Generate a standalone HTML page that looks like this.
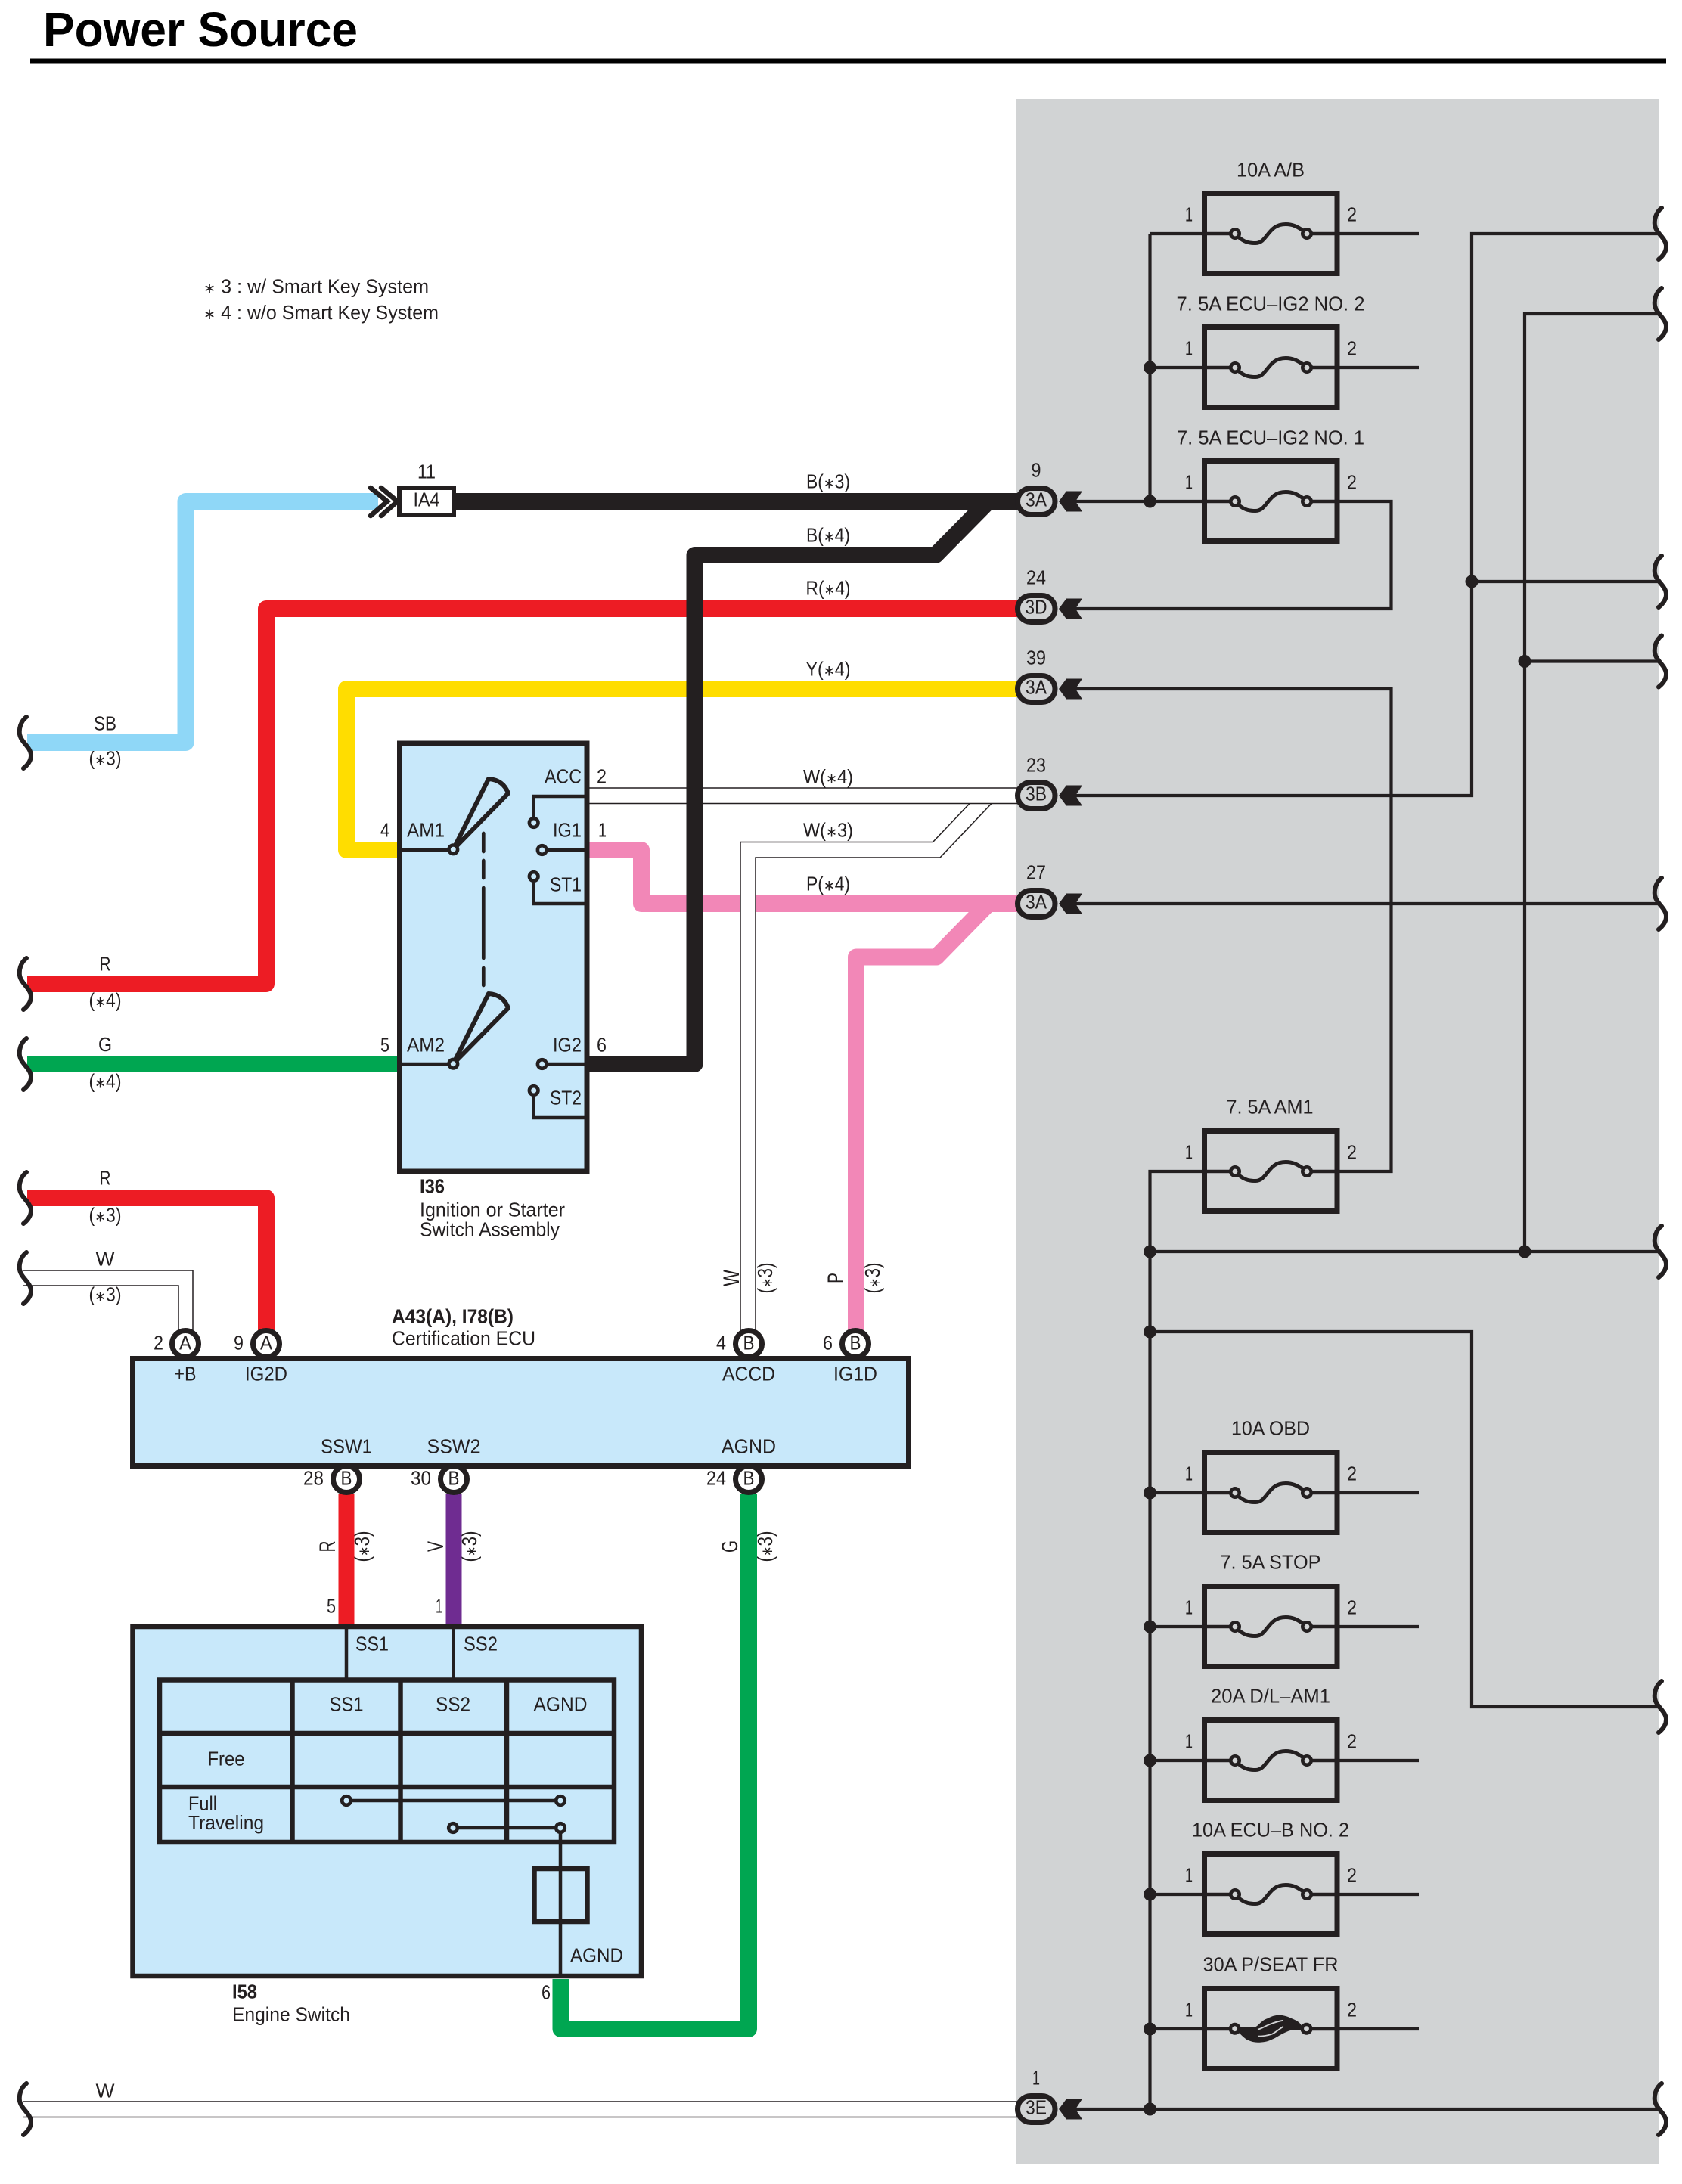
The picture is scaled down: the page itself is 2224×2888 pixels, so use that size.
<!DOCTYPE html>
<html lang="en"><head><meta charset="utf-8"><title>Power Source</title>
<style>
html,body{margin:0;padding:0;background:#fff}
svg{display:block}
text{font-family:"Liberation Sans","DejaVu Sans",sans-serif;font-size:26px;fill:#231f20}
text:not([transform]){transform:translateY(-1.5px)}
tspan.s{font-size:20px}
.m{text-anchor:middle}
.b{font-weight:bold}
.w{fill:none;stroke-width:22;stroke-linejoin:round}
.k{fill:none;stroke:#231f20;stroke-linejoin:miter}
.th{fill:none;stroke:#231f20;stroke-width:1.5}
.r1{font-size:30px}
.r2{font-size:28px}
</style></head><body>
<svg xmlns="http://www.w3.org/2000/svg" width="2224" height="2888" viewBox="0 0 2224 2888">
<defs>
<g id="fb"><rect x="1592.5" y="-53.5" width="175.5" height="106" fill="none" stroke="#231f20" stroke-width="7"/>
<path d="M1734 0H1771M1589 0H1627" stroke="#231f20" stroke-width="4.2" fill="none"/></g>
<g id="fuse"><use href="#fb"/>
<path d="M1637 4C1645 11 1651 12.5 1660 12.5C1676 12.5 1676-12.5 1700-12.5C1712-12.5 1718-7 1725-3" fill="none" stroke="#231f20" stroke-width="5"/>
<circle cx="1633" cy="0" r="5.7" fill="#d1d3d4" stroke="#231f20" stroke-width="4.6"/>
<circle cx="1728" cy="0" r="5.7" fill="#d1d3d4" stroke="#231f20" stroke-width="4.6"/></g>
<path id="br" d="M35-34C27-28 25-18 26-11C28 0 41 6 41 17C41 24 36 30 31 34" fill="none" stroke="#231f20" stroke-width="6" stroke-linecap="round"/>
<path id="ar" d="M1400 0L1410-13.5H1431L1422 0L1431 13.5H1410Z" fill="#231f20"/>
</defs>

<rect x="1343" y="131" width="851" height="2730" fill="#d1d3d4"/>

<text x="57" y="61" class="b" style="font-size:64px;fill:#000;transform:none" textLength="416" lengthAdjust="spacingAndGlyphs">Power Source</text>
<rect x="40" y="77.5" width="2163" height="6" fill="#000"/>

<text x="269" y="389" textLength="298" lengthAdjust="spacingAndGlyphs"><tspan class="s">∗</tspan> 3 : w/ Smart Key System</text>
<text x="269" y="423.5" textLength="311" lengthAdjust="spacingAndGlyphs"><tspan class="s">∗</tspan> 4 : w/o Smart Key System</text>

<!-- wire labels -->
<text x="1095" y="647" class="m" textLength="58" lengthAdjust="spacingAndGlyphs">B(<tspan class="s">∗</tspan>3)</text>
<text x="1095" y="718" class="m" textLength="58" lengthAdjust="spacingAndGlyphs">B(<tspan class="s">∗</tspan>4)</text>
<text x="1095" y="788" class="m" textLength="59" lengthAdjust="spacingAndGlyphs">R(<tspan class="s">∗</tspan>4)</text>
<text x="1095" y="895" class="m" textLength="59" lengthAdjust="spacingAndGlyphs">Y(<tspan class="s">∗</tspan>4)</text>
<text x="1095" y="1037.5" class="m" textLength="66" lengthAdjust="spacingAndGlyphs">W(<tspan class="s">∗</tspan>4)</text>
<text x="1095" y="1108" class="m" textLength="66" lengthAdjust="spacingAndGlyphs">W(<tspan class="s">∗</tspan>3)</text>
<text x="1095" y="1179" class="m" textLength="58" lengthAdjust="spacingAndGlyphs">P(<tspan class="s">∗</tspan>4)</text>

<text x="139" y="967" class="m" textLength="30" lengthAdjust="spacingAndGlyphs">SB</text>
<text x="139" y="1013" class="m" textLength="43" lengthAdjust="spacingAndGlyphs">(<tspan class="s">∗</tspan>3)</text>
<text x="139" y="1285" class="m" textLength="15" lengthAdjust="spacingAndGlyphs">R</text>
<text x="139" y="1333" class="m" textLength="43" lengthAdjust="spacingAndGlyphs">(<tspan class="s">∗</tspan>4)</text>
<text x="139" y="1391.5" class="m" textLength="18" lengthAdjust="spacingAndGlyphs">G</text>
<text x="139" y="1440" class="m" textLength="43" lengthAdjust="spacingAndGlyphs">(<tspan class="s">∗</tspan>4)</text>
<text x="139" y="1568" class="m" textLength="15" lengthAdjust="spacingAndGlyphs">R</text>
<text x="139" y="1617" class="m" textLength="43" lengthAdjust="spacingAndGlyphs">(<tspan class="s">∗</tspan>3)</text>
<text x="139" y="1675" class="m" textLength="25" lengthAdjust="spacingAndGlyphs">W</text>
<text x="139" y="1722" class="m" textLength="43" lengthAdjust="spacingAndGlyphs">(<tspan class="s">∗</tspan>3)</text>
<text x="139" y="2775" class="m" textLength="25" lengthAdjust="spacingAndGlyphs">W</text>

<text class="m r1" transform="translate(977,1690) rotate(-90)" textLength="22" lengthAdjust="spacingAndGlyphs">W</text>
<text class="m r2" transform="translate(1021,1690) rotate(-90)" textLength="41" lengthAdjust="spacingAndGlyphs">(<tspan class="s">∗</tspan>3)</text>
<text class="m r1" transform="translate(1115,1690) rotate(-90)" textLength="14" lengthAdjust="spacingAndGlyphs">P</text>
<text class="m r2" transform="translate(1163,1690) rotate(-90)" textLength="41" lengthAdjust="spacingAndGlyphs">(<tspan class="s">∗</tspan>3)</text>
<text class="m r1" transform="translate(443,2045) rotate(-90)" textLength="15" lengthAdjust="spacingAndGlyphs">R</text>
<text class="m r2" transform="translate(488,2045) rotate(-90)" textLength="41" lengthAdjust="spacingAndGlyphs">(<tspan class="s">∗</tspan>3)</text>
<text class="m r1" transform="translate(586,2045) rotate(-90)" textLength="14" lengthAdjust="spacingAndGlyphs">V</text>
<text class="m r2" transform="translate(630,2045) rotate(-90)" textLength="41" lengthAdjust="spacingAndGlyphs">(<tspan class="s">∗</tspan>3)</text>
<text class="m r1" transform="translate(975,2045) rotate(-90)" textLength="16" lengthAdjust="spacingAndGlyphs">G</text>
<text class="m r2" transform="translate(1021,2045) rotate(-90)" textLength="41" lengthAdjust="spacingAndGlyphs">(<tspan class="s">∗</tspan>3)</text>

<!-- coloured wires -->
<path class="w" stroke="#8fd7f7" d="M36 982H245.5V663H500"/>
<path class="w" stroke="#ed1c24" d="M1345 805H352V1301H36"/>
<path class="w" stroke="#ffdd00" d="M1345 911H458V1124H530"/>
<path class="w" stroke="#00a651" d="M36 1407H530"/>
<path class="w" stroke="#ed1c24" d="M36 1584H352V1762"/>
<path class="w" stroke="#f287b7" d="M776 1124H848V1195H1345M1307 1195L1238 1265.5H1132V1762"/>
<path class="w" stroke="#ed1c24" style="stroke-width:21" d="M458 1975V2150"/>
<path class="w" stroke="#6f2c91" style="stroke-width:21" d="M600 1975V2150"/>
<path class="w" stroke="#00a651" d="M990 1975V2683H741.5V2617"/>

<!-- white wires (double thin lines) -->
<rect x="776" y="1042" width="570" height="20.5" fill="#fff"/>
<path d="M979 1770V1113.5H1233.5L1282 1062H1311L1243 1134H999V1770Z" fill="#fff"/>
<path class="th" d="M776 1042H1346M776 1062.5H1346"/>
<path class="th" d="M979 1770V1113.5H1233.5L1282 1062.5M1311 1062.5L1243 1134H999V1770"/>
<path class="th" d="M30 1680H255V1762M30 1700H236V1762"/>
<path class="th" d="M30 2779H1346M30 2799.5H1346"/>

<!-- black wires -->
<path class="w" stroke="#231f20" d="M603 663H1345M1307 663L1237 734H918.5V1407H776"/>

<!-- I36 switch -->
<rect x="528.5" y="983" width="247.5" height="566" fill="#c8e8fa" stroke="#231f20" stroke-width="7"/>
<path class="k" stroke-width="4.5" d="M532 1124H599M532 1407H599M776 1053H705.7V1083M776 1124H722M705.7 1164V1195H776M776 1407H722M705.7 1447V1478H776"/>
<path d="M599.3 1123.3L646 1030C660 1031 668 1038 672 1049Z" fill="none" stroke="#231f20" stroke-width="6" stroke-linejoin="round"/>
<path d="M599.3 1406.7L646 1314C660 1315 668 1322 672 1333Z" fill="none" stroke="#231f20" stroke-width="6" stroke-linejoin="round"/>
<path d="M639.3 1102V1126M639.3 1138V1161M639.3 1174V1267M639.3 1280V1303" stroke="#231f20" stroke-width="4.7" stroke-linecap="round" fill="none"/>
<g fill="#c8e8fa" stroke="#231f20" stroke-width="4.6">
<circle cx="599.3" cy="1123.3" r="5.8"/><circle cx="599.3" cy="1406.7" r="5.8"/>
<circle cx="705.7" cy="1088" r="5.8"/><circle cx="716.7" cy="1124" r="5.8"/><circle cx="705.7" cy="1159" r="5.8"/>
<circle cx="716.7" cy="1407" r="5.8"/><circle cx="705.7" cy="1442" r="5.8"/></g>
<text x="720" y="1037" textLength="49" lengthAdjust="spacingAndGlyphs">ACC</text>
<text x="789" y="1037" textLength="13" lengthAdjust="spacingAndGlyphs">2</text>
<text x="731" y="1108" textLength="38" lengthAdjust="spacingAndGlyphs">IG1</text>
<text x="791" y="1108" textLength="11" lengthAdjust="spacingAndGlyphs">1</text>
<text x="727" y="1180" textLength="42" lengthAdjust="spacingAndGlyphs">ST1</text>
<text x="538" y="1108" textLength="50" lengthAdjust="spacingAndGlyphs">AM1</text>
<text x="503" y="1108" textLength="12" lengthAdjust="spacingAndGlyphs">4</text>
<text x="538" y="1392" textLength="50" lengthAdjust="spacingAndGlyphs">AM2</text>
<text x="503" y="1392" textLength="12" lengthAdjust="spacingAndGlyphs">5</text>
<text x="731" y="1392" textLength="38" lengthAdjust="spacingAndGlyphs">IG2</text>
<text x="789" y="1392" textLength="13" lengthAdjust="spacingAndGlyphs">6</text>
<text x="727" y="1462" textLength="42" lengthAdjust="spacingAndGlyphs">ST2</text>
<text x="555" y="1579" class="b" textLength="33" lengthAdjust="spacingAndGlyphs">I36</text>
<text x="555" y="1610" textLength="192" lengthAdjust="spacingAndGlyphs">Ignition or Starter</text>
<text x="555" y="1636" textLength="185" lengthAdjust="spacingAndGlyphs">Switch Assembly</text>

<!-- IA4 -->
<path d="M490 645L512 663L490 682M504 645L525.5 663L504 682" fill="none" stroke="#231f20" stroke-width="6.5" stroke-linecap="round"/>
<rect x="528" y="645" width="72" height="36" fill="#fff" stroke="#231f20" stroke-width="6"/>
<text x="564" y="671" class="m" textLength="35" lengthAdjust="spacingAndGlyphs">IA4</text>
<text x="564" y="634" class="m" textLength="24" lengthAdjust="spacingAndGlyphs">11</text>

<!-- ECU -->
<rect x="175.5" y="1796.5" width="1026" height="142" fill="#c8e8fa" stroke="#231f20" stroke-width="7"/>
<g fill="#fff" stroke="#231f20" stroke-width="7">
<circle cx="245" cy="1777" r="17.5"/><circle cx="352" cy="1777" r="17.5"/><circle cx="990" cy="1777" r="17.5"/><circle cx="1131" cy="1777" r="17.5"/>
<circle cx="458" cy="1956" r="17.5"/><circle cx="600" cy="1956" r="17.5"/><circle cx="990" cy="1956" r="17.5"/></g>
<text x="245" y="1786" class="m" textLength="16" lengthAdjust="spacingAndGlyphs">A</text>
<text x="352" y="1786" class="m" textLength="16" lengthAdjust="spacingAndGlyphs">A</text>
<text x="990" y="1786" class="m" textLength="15" lengthAdjust="spacingAndGlyphs">B</text>
<text x="1131" y="1786" class="m" textLength="15" lengthAdjust="spacingAndGlyphs">B</text>
<text x="458" y="1965" class="m" textLength="15" lengthAdjust="spacingAndGlyphs">B</text>
<text x="600" y="1965" class="m" textLength="15" lengthAdjust="spacingAndGlyphs">B</text>
<text x="990" y="1965" class="m" textLength="15" lengthAdjust="spacingAndGlyphs">B</text>
<text x="203" y="1786" textLength="13" lengthAdjust="spacingAndGlyphs">2</text>
<text x="309" y="1786" textLength="13" lengthAdjust="spacingAndGlyphs">9</text>
<text x="947" y="1786" textLength="13" lengthAdjust="spacingAndGlyphs">4</text>
<text x="1088" y="1786" textLength="13" lengthAdjust="spacingAndGlyphs">6</text>
<text x="401" y="1965" textLength="27" lengthAdjust="spacingAndGlyphs">28</text>
<text x="543" y="1965" textLength="27" lengthAdjust="spacingAndGlyphs">30</text>
<text x="934" y="1965" textLength="26" lengthAdjust="spacingAndGlyphs">24</text>
<text x="245" y="1827" class="m" textLength="29" lengthAdjust="spacingAndGlyphs">+B</text>
<text x="352" y="1827" class="m" textLength="56" lengthAdjust="spacingAndGlyphs">IG2D</text>
<text x="990" y="1827" class="m" textLength="70" lengthAdjust="spacingAndGlyphs">ACCD</text>
<text x="1131" y="1827" class="m" textLength="58" lengthAdjust="spacingAndGlyphs">IG1D</text>
<text x="458" y="1923" class="m" textLength="68" lengthAdjust="spacingAndGlyphs">SSW1</text>
<text x="600" y="1923" class="m" textLength="71" lengthAdjust="spacingAndGlyphs">SSW2</text>
<text x="990" y="1923" class="m" textLength="72" lengthAdjust="spacingAndGlyphs">AGND</text>
<text x="518" y="1751" class="b" textLength="161" lengthAdjust="spacingAndGlyphs">A43(A), I78(B)</text>
<text x="518" y="1780" textLength="190" lengthAdjust="spacingAndGlyphs">Certification ECU</text>

<!-- Engine switch -->
<rect x="175.5" y="2151" width="672.5" height="462" fill="#c8e8fa" stroke="#231f20" stroke-width="6.5"/>
<path class="k" stroke-width="4.5" d="M458 2151V2222M599.5 2151V2222M741 2417V2613M458 2381H741M599 2417H741"/>
<path class="k" stroke-width="6.5" d="M211 2221.5H812V2436H211ZM211 2292H812M211 2363H812M386.5 2221.5V2436M529.5 2221.5V2436M670 2221.5V2436M706.5 2471H776.5V2541H706.5Z"/>
<g fill="#c8e8fa" stroke="#231f20" stroke-width="4.6">
<circle cx="458" cy="2381" r="5.8"/><circle cx="741" cy="2381" r="5.8"/><circle cx="599" cy="2417" r="5.8"/><circle cx="741" cy="2417" r="5.8"/></g>
<text x="470" y="2184" textLength="44" lengthAdjust="spacingAndGlyphs">SS1</text>
<text x="613" y="2184" textLength="45" lengthAdjust="spacingAndGlyphs">SS2</text>
<text x="458" y="2264" class="m" textLength="45" lengthAdjust="spacingAndGlyphs">SS1</text>
<text x="599" y="2264" class="m" textLength="46" lengthAdjust="spacingAndGlyphs">SS2</text>
<text x="741" y="2264" class="m" textLength="71" lengthAdjust="spacingAndGlyphs">AGND</text>
<text x="299" y="2336" class="m" textLength="49" lengthAdjust="spacingAndGlyphs">Free</text>
<text x="249" y="2395" textLength="38" lengthAdjust="spacingAndGlyphs">Full</text>
<text x="249" y="2420.5" textLength="100" lengthAdjust="spacingAndGlyphs">Traveling</text>
<text x="754" y="2596" textLength="70" lengthAdjust="spacingAndGlyphs">AGND</text>
<text x="716" y="2645" textLength="12" lengthAdjust="spacingAndGlyphs">6</text>
<text x="432" y="2134" textLength="12" lengthAdjust="spacingAndGlyphs">5</text>
<text x="576" y="2134" textLength="9" lengthAdjust="spacingAndGlyphs">1</text>
<text x="307" y="2644" class="b" textLength="33" lengthAdjust="spacingAndGlyphs">I58</text>
<text x="307" y="2674" textLength="156" lengthAdjust="spacingAndGlyphs">Engine Switch</text>

<!-- left braces -->
<use href="#br" y="982"/><use href="#br" y="1301"/><use href="#br" y="1407"/><use href="#br" y="1584"/><use href="#br" y="1690"/><use href="#br" y="2789"/>

<!-- right side wiring -->
<path class="k" stroke-width="4.2" d="M1520.5 309H1627M1520.5 309V663M1520.5 486H1627M1422 663H1627M1734 309H1876M1734 486H1876M1734 663H1839.5V805H1422
M1422 911H1839.5V1549H1734M1627 1549H1520.5V2789M1422 2789H2196
M1520.5 1974H1627M1734 1974H1876M1520.5 2151H1627M1734 2151H1876M1520.5 2328H1627M1734 2328H1876M1520.5 2505H1627M1734 2505H1876M1520.5 2683H1627M1734 2683H1876
M1422 1052H1946V309H2196M1946 769H2196M2016 1655V415H2196M2016 874.5H2196M1520.5 1655H2196M1520.5 1761H1946V2257H2196M1422 1195H2196"/>
<g fill="#231f20">
<circle cx="1520.5" cy="486" r="8.5"/><circle cx="1520.5" cy="663" r="8.5"/><circle cx="1946" cy="769" r="8.5"/><circle cx="2016" cy="874.5" r="8.5"/>
<circle cx="1520.5" cy="1655" r="8.5"/><circle cx="2016" cy="1655" r="8.5"/><circle cx="1520.5" cy="1761" r="8.5"/>
<circle cx="1520.5" cy="1974" r="8.5"/><circle cx="1520.5" cy="2151" r="8.5"/><circle cx="1520.5" cy="2328" r="8.5"/><circle cx="1520.5" cy="2505" r="8.5"/><circle cx="1520.5" cy="2683" r="8.5"/><circle cx="1520.5" cy="2789" r="8.5"/></g>

<!-- fuses -->
<use href="#fuse" y="309"/><use href="#fuse" y="486"/><use href="#fuse" y="663"/><use href="#fuse" y="1549"/><use href="#fuse" y="1974"/><use href="#fuse" y="2151"/><use href="#fuse" y="2328"/><use href="#fuse" y="2505"/>
<use href="#fb" y="2683"/>
<g transform="translate(0,2682.7)">
<path d="M1636-2H1657C1662-2 1664-6 1668-9C1671-12 1674-13 1677-14C1682-17 1687-18 1692-18C1697-18 1703-16 1707-14C1712-12 1716-10 1718-8C1721-5 1722-2 1726 1C1720 2 1712 1 1707 2C1703 3 1699 5 1695 7C1691 9 1687 12 1682 14C1676 17 1670 18 1663 18C1657 18 1652 16 1648 14C1644 11 1642 9 1640 7L1636 4Z" fill="#231f20"/>
<path d="M1663 1C1668 0 1672-3 1677-5C1684-8 1690-10 1697-11M1663 10C1670 10 1676 9 1682 7C1688 4 1692 0 1697-3" fill="none" stroke="#d1d3d4" stroke-width="1.8"/>
<circle cx="1632.7" cy="0" r="5.7" fill="#d1d3d4" stroke="#231f20" stroke-width="4.6"/>
<circle cx="1727.5" cy="0" r="5.7" fill="#d1d3d4" stroke="#231f20" stroke-width="4.6"/>
</g>

<text x="1680" y="235" class="m" textLength="90" lengthAdjust="spacingAndGlyphs">10A A/B</text>
<text x="1680" y="412" class="m" textLength="249" lengthAdjust="spacingAndGlyphs">7. 5A ECU–IG2 NO. 2</text>
<text x="1680" y="589" class="m" textLength="248" lengthAdjust="spacingAndGlyphs">7. 5A ECU–IG2 NO. 1</text>
<text x="1679" y="1474" class="m" textLength="115" lengthAdjust="spacingAndGlyphs">7. 5A AM1</text>
<text x="1680" y="1899" class="m" textLength="104" lengthAdjust="spacingAndGlyphs">10A OBD</text>
<text x="1680" y="2076" class="m" textLength="133" lengthAdjust="spacingAndGlyphs">7. 5A STOP</text>
<text x="1680" y="2253" class="m" textLength="158" lengthAdjust="spacingAndGlyphs">20A D/L–AM1</text>
<text x="1680" y="2430" class="m" textLength="208" lengthAdjust="spacingAndGlyphs">10A ECU–B NO. 2</text>
<text x="1680" y="2608" class="m" textLength="179" lengthAdjust="spacingAndGlyphs">30A P/SEAT FR</text>

<g>
<text x="1567" y="294" textLength="10" lengthAdjust="spacingAndGlyphs">1</text><text x="1781" y="294" textLength="13" lengthAdjust="spacingAndGlyphs">2</text>
<text x="1567" y="471" textLength="10" lengthAdjust="spacingAndGlyphs">1</text><text x="1781" y="471" textLength="13" lengthAdjust="spacingAndGlyphs">2</text>
<text x="1567" y="648" textLength="10" lengthAdjust="spacingAndGlyphs">1</text><text x="1781" y="648" textLength="13" lengthAdjust="spacingAndGlyphs">2</text>
<text x="1567" y="1534" textLength="10" lengthAdjust="spacingAndGlyphs">1</text><text x="1781" y="1534" textLength="13" lengthAdjust="spacingAndGlyphs">2</text>
<text x="1567" y="1959" textLength="10" lengthAdjust="spacingAndGlyphs">1</text><text x="1781" y="1959" textLength="13" lengthAdjust="spacingAndGlyphs">2</text>
<text x="1567" y="2136" textLength="10" lengthAdjust="spacingAndGlyphs">1</text><text x="1781" y="2136" textLength="13" lengthAdjust="spacingAndGlyphs">2</text>
<text x="1567" y="2313" textLength="10" lengthAdjust="spacingAndGlyphs">1</text><text x="1781" y="2313" textLength="13" lengthAdjust="spacingAndGlyphs">2</text>
<text x="1567" y="2490" textLength="10" lengthAdjust="spacingAndGlyphs">1</text><text x="1781" y="2490" textLength="13" lengthAdjust="spacingAndGlyphs">2</text>
<text x="1567" y="2668" textLength="10" lengthAdjust="spacingAndGlyphs">1</text><text x="1781" y="2668" textLength="13" lengthAdjust="spacingAndGlyphs">2</text>
</g>

<!-- right braces -->
<g transform="translate(2162,0)">
<use href="#br" y="309"/><use href="#br" y="415"/><use href="#br" y="769"/><use href="#br" y="874.5"/><use href="#br" y="1195"/><use href="#br" y="1655"/><use href="#br" y="2257"/><use href="#br" y="2789"/>
</g>

<!-- connectors -->
<g fill="#d1d3d4" stroke="#231f20" stroke-width="7">
<rect x="1345.5" y="645.5" width="49.5" height="35" rx="17.5"/>
<rect x="1345.5" y="787.5" width="49.5" height="35" rx="17.5"/>
<rect x="1345.5" y="893.5" width="49.5" height="35" rx="17.5"/>
<rect x="1345.5" y="1034.5" width="49.5" height="35" rx="17.5"/>
<rect x="1345.5" y="1177.5" width="49.5" height="35" rx="17.5"/>
<rect x="1345.5" y="2771.5" width="49.5" height="35" rx="17.5"/>
</g>
<use href="#ar" y="663"/><use href="#ar" y="805"/><use href="#ar" y="911"/><use href="#ar" y="1052"/><use href="#ar" y="1195"/><use href="#ar" y="2789"/>
<text x="1370" y="671" class="m" textLength="28" lengthAdjust="spacingAndGlyphs">3A</text>
<text x="1370" y="813" class="m" textLength="29" lengthAdjust="spacingAndGlyphs">3D</text>
<text x="1370" y="919" class="m" textLength="28" lengthAdjust="spacingAndGlyphs">3A</text>
<text x="1370" y="1060" class="m" textLength="28" lengthAdjust="spacingAndGlyphs">3B</text>
<text x="1370" y="1203" class="m" textLength="28" lengthAdjust="spacingAndGlyphs">3A</text>
<text x="1370" y="2797" class="m" textLength="28" lengthAdjust="spacingAndGlyphs">3E</text>
<text x="1370" y="632" class="m" textLength="13" lengthAdjust="spacingAndGlyphs">9</text>
<text x="1370" y="774" class="m" textLength="26" lengthAdjust="spacingAndGlyphs">24</text>
<text x="1370" y="880" class="m" textLength="26" lengthAdjust="spacingAndGlyphs">39</text>
<text x="1370" y="1022" class="m" textLength="26" lengthAdjust="spacingAndGlyphs">23</text>
<text x="1370" y="1164" class="m" textLength="26" lengthAdjust="spacingAndGlyphs">27</text>
<text x="1370" y="2758" class="m" textLength="10" lengthAdjust="spacingAndGlyphs">1</text>
</svg>
</body></html>
